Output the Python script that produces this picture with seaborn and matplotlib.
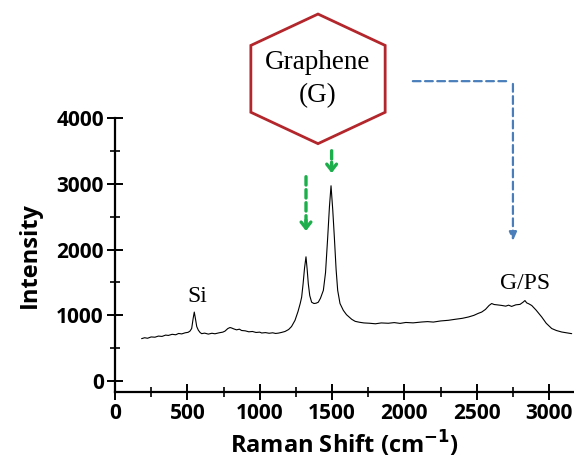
import numpy as np
import pandas as pd
import matplotlib
matplotlib.use("Agg")
import matplotlib.pyplot as plt
from matplotlib.patches import Polygon
from matplotlib.ticker import MultipleLocator
import seaborn as sns

# Raman spectrum
shift = [184, 205, 225, 250, 276, 300, 325, 350, 369, 395, 420, 440, 461, 485,
         505, 518, 530, 540, 548, 556, 565, 576, 588, 599, 620, 645, 670, 691,
         720, 745, 760, 780, 795, 806, 820, 840, 860, 875, 900, 925, 950, 975,
         1000, 1014, 1040, 1065, 1090, 1110, 1129, 1150, 1175, 1200, 1220, 1244,
         1265, 1280, 1290, 1300, 1310, 1320, 1328, 1336, 1346, 1359, 1375, 1390,
         1405, 1420, 1440, 1455, 1470, 1482, 1493, 1505, 1516, 1528, 1539, 1555,
         1578, 1600, 1636, 1660, 1690, 1720, 1760, 1800, 1840, 1889, 1930, 1970,
         2010, 2060, 2119, 2160, 2200, 2250, 2304, 2350, 2400, 2442, 2480, 2510,
         2534, 2560, 2585, 2603, 2620, 2640, 2672, 2700, 2720, 2741, 2770, 2799,
         2820, 2833, 2845, 2860, 2880, 2910, 2949, 2980, 3018, 3050, 3087, 3120,
         3156]
intensity = [646, 660, 652, 672, 668, 685, 680, 700, 695, 712, 705, 725, 718, 735,
             742, 760, 800, 950, 1050, 950, 830, 775, 740, 722, 730, 715, 728, 720,
             735, 745, 760, 800, 815, 808, 795, 780, 790, 770, 765, 750, 755, 740,
             745, 732, 738, 728, 735, 725, 730, 740, 755, 785, 830, 924,
             1060, 1180, 1277, 1480, 1720, 1890, 1700, 1480, 1300, 1200, 1180, 1185,
             1200, 1260, 1380, 1650, 2186, 2650, 2970, 2600, 2186, 1700, 1380, 1180,
             1076, 1010, 940, 909, 895, 885, 880, 872, 885, 880, 890, 878,
             892, 886, 899, 905, 898, 915, 925, 940, 955, 975, 1000, 1030,
             1050, 1090, 1150, 1180, 1165, 1160, 1151, 1140, 1155, 1136, 1160, 1167,
             1200, 1225, 1190, 1175, 1150, 1080, 975, 880, 800, 770, 747, 735,
             722]

x_ticks = [0, 500, 1000, 1500, 2000, 2500, 3000]
y_ticks = [0, 1000, 2000, 3000, 4000]

df = pd.DataFrame({"shift": shift, "intensity": intensity})

sns.set_style("white")
plt.rcParams["font.family"] = ["Open Sans", "DejaVu Sans"]
plt.rcParams["text.color"] = "black"
plt.rcParams["axes.labelcolor"] = "black"
plt.rcParams["xtick.color"] = "black"
plt.rcParams["ytick.color"] = "black"

fig = plt.figure(figsize=(5.74, 4.62), dpi=100)
ax = fig.add_axes([0.2003, 0.1515, 0.7997, 0.5931])

sns.lineplot(data=df, x="shift", y="intensity", color="black", lw=0.8, ax=ax)

ax.set_xlim(0, 3172)
ax.set_ylim(-165, 4000)
ax.set_xticks(x_ticks)
ax.set_yticks(y_ticks)
ax.xaxis.set_minor_locator(MultipleLocator(250))
ax.yaxis.set_minor_locator(MultipleLocator(500))
for s in ["top", "right"]:
    ax.spines[s].set_visible(False)
for s in ["left", "bottom"]:
    ax.spines[s].set_linewidth(1.6)
    ax.spines[s].set_color("black")
ax.tick_params(which="major", direction="inout", length=12, width=1.4,
               color="black", labelcolor="black", pad=2)
ax.tick_params(which="minor", direction="inout", length=7, width=1.2,
               color="black")
ax.tick_params(axis="x", which="both", bottom=True)
ax.tick_params(axis="y", which="both", left=True)
for lab in ax.get_xticklabels() + ax.get_yticklabels():
    lab.set_fontsize(15)
    lab.set_fontweight("bold")

ax.set_xlabel("Raman Shift (cm$^{\\mathbf{-1}}$)", fontsize=17, fontweight="bold",
              labelpad=4, color="black")
ax.set_ylabel("Intensity", fontsize=17, fontweight="bold", labelpad=10,
              color="black")
ax.grid(False)

serif = ["Liberation Serif", "DejaVu Serif"]

# peak labels
ax.text(567, 1290, "Si", family=serif, fontsize=17, ha="center", va="center",
        color="black")
ax.text(2833, 1480, "G/PS", family=serif, fontsize=17, ha="center", va="center",
        color="black")

# hexagon callout
cx, cy, hw, tip, sh = 1403, 4595, 464, 985, 508
hex_pts = [(cx, cy + tip), (cx + hw, cy + sh), (cx + hw, cy - sh),
           (cx, cy - tip), (cx - hw, cy - sh), (cx - hw, cy + sh)]
ax.add_patch(Polygon(hex_pts, closed=True, fill=False, edgecolor="#B3262B",
                     lw=2.0, clip_on=False))
ax.text(cx, 4840, "Graphene", family=serif, fontsize=19.5, ha="center",
        va="center", color="black")
ax.text(cx, 4340, "(G)", family=serif, fontsize=19.5, ha="center", va="center",
        color="black")

# green dashed arrows to D and G peaks
green = "#1DAE4C"
for xa, y0, y1 in [(1320, 3150, 2240), (1497, 3545, 3120)]:
    ax.annotate("", xy=(xa, y1 + 60), xytext=(xa, y0), annotation_clip=False,
                arrowprops=dict(arrowstyle="-", color=green, lw=2.4,
                                linestyle=(0, (2.5, 1.4))))
    ax.annotate("", xy=(xa, y1), xytext=(xa, y1 + 250), annotation_clip=False,
                arrowprops=dict(arrowstyle="->,head_length=0.45,head_width=0.35",
                                color=green, lw=2.4))

# blue dashed elbow arrow
blue = "#4A7EBB"
ax.annotate("", xy=(2750, 4560), xytext=(2039, 4560), annotation_clip=False,
            arrowprops=dict(arrowstyle="-", color=blue, lw=1.6,
                            linestyle=(0, (3.5, 2))))
ax.annotate("", xy=(2750, 2090), xytext=(2750, 4560), annotation_clip=False,
            arrowprops=dict(arrowstyle="-|>,head_length=0.5,head_width=0.22",
                            color=blue, lw=1.6, linestyle=(0, (3.5, 2))))

fig.savefig("out.png", dpi=100)
